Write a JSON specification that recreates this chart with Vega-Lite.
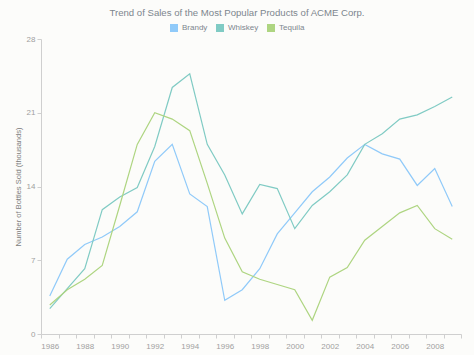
{
  "$schema": "https://vega.github.io/schema/vega-lite/v6.json",
  "autosize": {"type": "none"},
  "width": 420,
  "height": 295,
  "padding": {"left": 41, "top": 39, "right": 13, "bottom": 21},
  "background": "#fcfcfa",
  "title": {
    "text": "Trend of Sales of the Most Popular Products of ACME Corp.",
    "font": "Liberation Sans",
    "fontSize": 9.6,
    "fontWeight": "normal",
    "color": "#7c868e",
    "dx": -14,
    "offset": 6
  },
  "config": {
    "view": {"stroke": null},
    "font": "Liberation Sans"
  },
  "data": {
    "values": [
      {"year": 1986, "product": "Brandy", "sales": 3.6},
      {"year": 1987, "product": "Brandy", "sales": 7.1},
      {"year": 1988, "product": "Brandy", "sales": 8.5},
      {"year": 1989, "product": "Brandy", "sales": 9.2},
      {"year": 1990, "product": "Brandy", "sales": 10.2},
      {"year": 1991, "product": "Brandy", "sales": 11.6},
      {"year": 1992, "product": "Brandy", "sales": 16.4},
      {"year": 1993, "product": "Brandy", "sales": 18.0},
      {"year": 1994, "product": "Brandy", "sales": 13.3},
      {"year": 1995, "product": "Brandy", "sales": 12.1},
      {"year": 1996, "product": "Brandy", "sales": 3.2},
      {"year": 1997, "product": "Brandy", "sales": 4.2},
      {"year": 1998, "product": "Brandy", "sales": 6.2},
      {"year": 1999, "product": "Brandy", "sales": 9.5},
      {"year": 2000, "product": "Brandy", "sales": 11.5},
      {"year": 2001, "product": "Brandy", "sales": 13.5},
      {"year": 2002, "product": "Brandy", "sales": 14.9},
      {"year": 2003, "product": "Brandy", "sales": 16.7},
      {"year": 2004, "product": "Brandy", "sales": 18.0},
      {"year": 2005, "product": "Brandy", "sales": 17.1},
      {"year": 2006, "product": "Brandy", "sales": 16.6},
      {"year": 2007, "product": "Brandy", "sales": 14.1},
      {"year": 2008, "product": "Brandy", "sales": 15.7},
      {"year": 2009, "product": "Brandy", "sales": 12.1},
      {"year": 1986, "product": "Whiskey", "sales": 2.4},
      {"year": 1987, "product": "Whiskey", "sales": 4.3},
      {"year": 1988, "product": "Whiskey", "sales": 6.2},
      {"year": 1989, "product": "Whiskey", "sales": 11.8},
      {"year": 1990, "product": "Whiskey", "sales": 13.0},
      {"year": 1991, "product": "Whiskey", "sales": 13.9},
      {"year": 1992, "product": "Whiskey", "sales": 17.8},
      {"year": 1993, "product": "Whiskey", "sales": 23.4},
      {"year": 1994, "product": "Whiskey", "sales": 24.7},
      {"year": 1995, "product": "Whiskey", "sales": 18.0},
      {"year": 1996, "product": "Whiskey", "sales": 15.1},
      {"year": 1997, "product": "Whiskey", "sales": 11.4},
      {"year": 1998, "product": "Whiskey", "sales": 14.2},
      {"year": 1999, "product": "Whiskey", "sales": 13.8},
      {"year": 2000, "product": "Whiskey", "sales": 10.0},
      {"year": 2001, "product": "Whiskey", "sales": 12.2},
      {"year": 2002, "product": "Whiskey", "sales": 13.5},
      {"year": 2003, "product": "Whiskey", "sales": 15.1},
      {"year": 2004, "product": "Whiskey", "sales": 18.0},
      {"year": 2005, "product": "Whiskey", "sales": 19.0},
      {"year": 2006, "product": "Whiskey", "sales": 20.4},
      {"year": 2007, "product": "Whiskey", "sales": 20.8},
      {"year": 2008, "product": "Whiskey", "sales": 21.6},
      {"year": 2009, "product": "Whiskey", "sales": 22.5},
      {"year": 1986, "product": "Tequila", "sales": 2.75},
      {"year": 1987, "product": "Tequila", "sales": 4.2},
      {"year": 1988, "product": "Tequila", "sales": 5.2},
      {"year": 1989, "product": "Tequila", "sales": 6.5},
      {"year": 1990, "product": "Tequila", "sales": 12.2},
      {"year": 1991, "product": "Tequila", "sales": 18.0},
      {"year": 1992, "product": "Tequila", "sales": 21.0},
      {"year": 1993, "product": "Tequila", "sales": 20.4},
      {"year": 1994, "product": "Tequila", "sales": 19.3},
      {"year": 1995, "product": "Tequila", "sales": 14.3},
      {"year": 1996, "product": "Tequila", "sales": 9.1},
      {"year": 1997, "product": "Tequila", "sales": 5.9},
      {"year": 1998, "product": "Tequila", "sales": 5.2},
      {"year": 1999, "product": "Tequila", "sales": 4.7},
      {"year": 2000, "product": "Tequila", "sales": 4.2},
      {"year": 2001, "product": "Tequila", "sales": 1.3},
      {"year": 2002, "product": "Tequila", "sales": 5.4},
      {"year": 2003, "product": "Tequila", "sales": 6.3},
      {"year": 2004, "product": "Tequila", "sales": 8.9},
      {"year": 2005, "product": "Tequila", "sales": 10.2},
      {"year": 2006, "product": "Tequila", "sales": 11.5},
      {"year": 2007, "product": "Tequila", "sales": 12.2},
      {"year": 2008, "product": "Tequila", "sales": 10.0},
      {"year": 2009, "product": "Tequila", "sales": 9.0}
    ]
  },
  "mark": {"type": "line", "strokeWidth": 1.2},
  "encoding": {
    "x": {
      "field": "year",
      "type": "ordinal",
      "bandPosition": 0.5,
      "scale": {"type": "band", "paddingInner": 0, "paddingOuter": 0},
      "axis": {
        "title": null,
        "labelAngle": 0,
        "tickBand": "extent",
        "labelExpr": "toNumber(datum.value) % 2 == 0 ? datum.label : ''",
        "labelFontSize": 8,
        "labelColor": "#a0a0a0",
        "labelPadding": 4,
        "tickSize": 4,
        "tickColor": "#cfcfcf",
        "domainColor": "#cfcfcf",
        "grid": false
      }
    },
    "y": {
      "field": "sales",
      "type": "quantitative",
      "scale": {"domain": [0, 28], "nice": false},
      "axis": {
        "title": "Number of Bottles Sold (thousands)",
        "titleFontSize": 7.5,
        "titleFontWeight": "normal",
        "titleColor": "#7c7c7c",
        "titlePadding": 4,
        "values": [0, 7, 14, 21, 28],
        "labelFontSize": 8,
        "labelColor": "#a0a0a0",
        "tickSize": 4,
        "tickColor": "#cfcfcf",
        "domainColor": "#cfcfcf",
        "grid": false
      }
    },
    "color": {
      "field": "product",
      "type": "nominal",
      "sort": ["Brandy", "Whiskey", "Tequila"],
      "scale": {"domain": ["Brandy", "Whiskey", "Tequila"], "range": ["#90caf9", "#80cbc4", "#aed581"]},
      "legend": {
        "title": null,
        "orient": "none",
        "direction": "horizontal",
        "legendX": 129,
        "legendY": -15,
        "symbolType": "square",
        "symbolSize": 16,
        "symbolStrokeWidth": 4,
        "symbolOpacity": 1,
        "labelFontSize": 8,
        "labelColor": "#7c868e",
        "labelOffset": 4,
        "columnPadding": 2
      }
    }
  }
}
